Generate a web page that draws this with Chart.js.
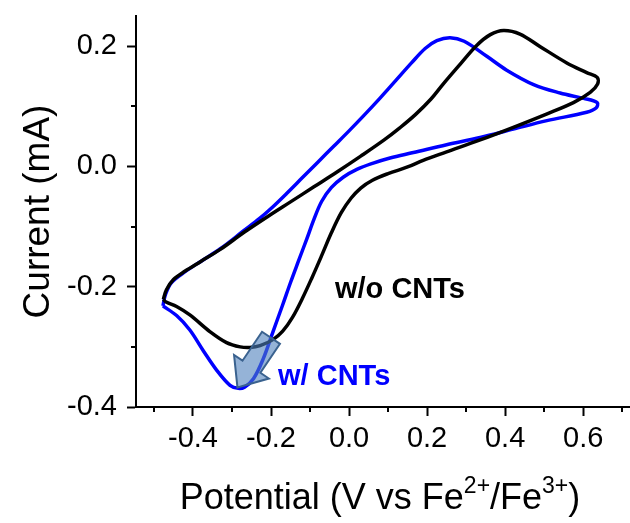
<!DOCTYPE html>
<html>
<head>
<meta charset="utf-8">
<script src="https://cdn.jsdelivr.net/npm/chart.js@4.4.1/dist/chart.umd.min.js"></script>
<style>
  body { margin: 0; background: #fff; }
  #wrap { width: 630px; height: 523px; }
</style>
</head>
<body>
<div id="wrap"><canvas id="cvChart" width="630" height="523"></canvas></div>
<script>
// one full CV cycle per electrode, potential in V, current in mA
const plainV = [-0.476, -0.468, -0.450, -0.420, -0.380, -0.330, -0.270, -0.210, -0.150, -0.090, -0.030, 0.030, 0.090, 0.130, 0.170, 0.210, 0.240, 0.285, 0.327, 0.362, 0.396, 0.438, 0.490, 0.558, 0.609, 0.636,
  0.637, 0.618, 0.575, 0.506, 0.421, 0.336, 0.250, 0.190, 0.150, 0.100, 0.060, 0.030, 0.005, -0.020, -0.045, -0.070, -0.095, -0.120, -0.145, -0.170, -0.195, -0.228, -0.254, -0.279, -0.314, -0.356, -0.408, -0.442, -0.470, -0.476];
const plainI = [-0.221, -0.205, -0.188, -0.174, -0.158, -0.138, -0.110, -0.084, -0.059, -0.034, -0.009, 0.017, 0.044, 0.064, 0.086, 0.112, 0.136, 0.170, 0.201, 0.219, 0.226, 0.220, 0.199, 0.172, 0.156, 0.148,
  0.137, 0.123, 0.106, 0.087, 0.065, 0.044, 0.024, 0.010, -0.001, -0.012, -0.023, -0.036, -0.053, -0.077, -0.110, -0.148, -0.185, -0.220, -0.251, -0.274, -0.288, -0.298, -0.301, -0.300, -0.293, -0.275, -0.247, -0.233, -0.225, -0.221];

const cntV = [-0.477, -0.470, -0.455, -0.420, -0.380, -0.330, -0.270, -0.230, -0.200, -0.160, -0.120, -0.080, -0.040, 0.000, 0.040, 0.080, 0.120, 0.160, 0.195, 0.225, 0.259, 0.295, 0.353, 0.404, 0.473, 0.541, 0.601, 0.636,
  0.633, 0.609, 0.507, 0.421, 0.336, 0.250, 0.165, 0.105, 0.060, 0.020, -0.015, -0.045, -0.070, -0.090, -0.108, -0.130, -0.150, -0.170, -0.195, -0.220, -0.245, -0.268, -0.284, -0.305, -0.339, -0.374, -0.408, -0.442, -0.477];
const cntI = [-0.232, -0.212, -0.193, -0.175, -0.158, -0.137, -0.107, -0.087, -0.070, -0.045, -0.019, 0.007, 0.033, 0.059, 0.086, 0.114, 0.143, 0.172, 0.196, 0.209, 0.214, 0.208, 0.183, 0.160, 0.136, 0.122, 0.113, 0.106,
  0.097, 0.090, 0.076, 0.062, 0.048, 0.036, 0.023, 0.014, 0.005, -0.005, -0.018, -0.035, -0.058, -0.088, -0.120, -0.158, -0.193, -0.230, -0.275, -0.320, -0.353, -0.367, -0.369, -0.364, -0.339, -0.306, -0.272, -0.248, -0.232];

const seriesNames = ['w/o CNTs', 'w/ CNTs'];

const xMajor = [-0.4, -0.2, 0.0, 0.2, 0.4, 0.6];
const xTickLabels = ['-0.4', '-0.2', '0.0', '0.2', '0.4', '0.6'];
const xMinor = [-0.5, -0.3, -0.1, 0.1, 0.3, 0.5, 0.7];
const yMajor = [-0.4, -0.2, 0.0, 0.2];
const yTickLabels = ['-0.4', '-0.2', '0.0', '0.2'];
const yMinor = [-0.3, -0.1, 0.1];

const toPoints = (vs, is) => vs.map((v, k) => ({ x: v, y: is[k] }));

const FONT = "'Liberation Sans', Arial, sans-serif";

// minor ticks, the arrow, the in-plot labels and the x title with superscripts
const extras = {
  id: 'extras',
  afterDatasetsDraw(chart) {
    const { ctx, scales: { x, y } } = chart;
    ctx.save();
    // block arrow pointing at the CNT reduction peak
    const tx = x.getPixelForValue(-0.200), ty = y.getPixelForValue(-0.285);
    const hx = x.getPixelForValue(-0.286), hy = y.getPixelForValue(-0.3675);
    const len = Math.hypot(hx - tx, hy - ty);
    const ux = (hx - tx) / len, uy = (hy - ty) / len;
    const nx = -uy, ny = ux;
    const shaft = 10.8, head = 21, headLen = 25;
    const bx = hx - ux * headLen, by = hy - uy * headLen;
    ctx.beginPath();
    ctx.moveTo(tx + nx * shaft, ty + ny * shaft);
    ctx.lineTo(bx + nx * shaft, by + ny * shaft);
    ctx.lineTo(bx + nx * head, by + ny * head);
    ctx.lineTo(hx, hy);
    ctx.lineTo(bx - nx * head, by - ny * head);
    ctx.lineTo(bx - nx * shaft, by - ny * shaft);
    ctx.lineTo(tx - nx * shaft, ty - ny * shaft);
    ctx.closePath();
    ctx.fillStyle = 'rgba(79,129,189,0.6)';
    ctx.fill();
    ctx.strokeStyle = '#3a628f';
    ctx.lineWidth = 2;
    ctx.stroke();

    ctx.font = 'bold 29px ' + FONT;
    ctx.textAlign = 'left';
    ctx.textBaseline = 'alphabetic';
    ctx.fillStyle = '#000';
    ctx.fillText(seriesNames[0], x.getPixelForValue(-0.036), y.getPixelForValue(-0.219));
    ctx.fillStyle = '#0000ff';
    ctx.fillText(seriesNames[1], x.getPixelForValue(-0.182), y.getPixelForValue(-0.364));
    ctx.restore();
  },
  afterDraw(chart) {
    const { ctx, scales: { x, y } } = chart;
    ctx.save();
    ctx.strokeStyle = '#000';
    ctx.lineWidth = 2;
    xMinor.forEach(v => {
      const px = Math.round(x.getPixelForValue(v));
      ctx.beginPath();
      ctx.moveTo(px, x.top);
      ctx.lineTo(px, x.top + 5);
      ctx.stroke();
    });
    yMinor.forEach(v => {
      const py = Math.round(y.getPixelForValue(v));
      ctx.beginPath();
      ctx.moveTo(y.right, py);
      ctx.lineTo(y.right - 5, py);
      ctx.stroke();
    });

    // x axis title: Potential (V vs Fe2+/Fe3+)
    const parts = [
      ['Potential (V vs Fe', false], ['2+', true], ['/Fe', false], ['3+', true], [')', false]
    ];
    const big = '36px ' + FONT, small = '23px ' + FONT;
    let total = 0;
    parts.forEach(p => { ctx.font = p[1] ? small : big; total += ctx.measureText(p[0]).width; });
    let cx = (chart.chartArea.left + chart.chartArea.right) / 2 - total / 2 - 3;
    const base = x.bottom - 14;
    ctx.fillStyle = '#000';
    ctx.textBaseline = 'alphabetic';
    ctx.textAlign = 'left';
    parts.forEach(p => {
      ctx.font = p[1] ? small : big;
      ctx.fillText(p[0], cx, p[1] ? base - 16 : base);
      cx += ctx.measureText(p[0]).width;
    });
    ctx.restore();
  }
};

new Chart(document.getElementById('cvChart'), {
  type: 'scatter',
  data: {
    datasets: [
      {
        label: seriesNames[0],
        data: toPoints(plainV, plainI),
        showLine: true,
        borderColor: '#000000',
        borderWidth: 3.5,
        pointRadius: 0,
        tension: 0.35,
        fill: false
      },
      {
        label: seriesNames[1],
        data: toPoints(cntV, cntI),
        showLine: true,
        borderColor: '#0000ff',
        borderWidth: 3.5,
        pointRadius: 0,
        tension: 0.35,
        fill: false
      }
    ]
  },
  options: {
    responsive: false,
    animation: false,
    layout: { padding: { top: 16, right: 0, left: 0, bottom: 0 } },
    plugins: { legend: { display: false }, tooltip: { enabled: false } },
    scales: {
      x: {
        type: 'linear',
        min: -0.546,
        max: 0.72,
        afterBuildTicks: scale => { scale.ticks = xMajor.map(v => ({ value: v })); },
        afterFit: scale => {
          scale.height = 116;
          scale.paddingLeft = 0;
          scale.paddingRight = 0;
        },
        border: { display: true, color: '#000', width: 2 },
        grid: { display: true, drawOnChartArea: false, drawTicks: true, tickLength: 9, tickColor: '#000', tickWidth: 2 },
        ticks: {
          autoSkip: false,
          maxRotation: 0,
          padding: 6,
          color: '#000',
          font: { family: FONT, size: 29 },
          callback: (val, idx) => xTickLabels[idx]
        },
        title: { display: false }
      },
      y: {
        type: 'linear',
        min: -0.4,
        max: 0.25,
        afterBuildTicks: scale => { scale.ticks = yMajor.map(v => ({ value: v })); },
        afterFit: scale => {
          scale.width = 136;
          scale.paddingTop = 0;
          scale.paddingBottom = 0;
        },
        border: { display: true, color: '#000', width: 2 },
        grid: { display: true, drawOnChartArea: false, drawTicks: true, tickLength: 9, tickColor: '#000', tickWidth: 2 },
        ticks: {
          autoSkip: false,
          padding: 10,
          color: '#000',
          font: { family: FONT, size: 29 },
          callback: (val, idx) => yTickLabels[idx]
        },
        title: {
          display: true,
          text: 'Current (mA)',
          color: '#000',
          font: { family: FONT, size: 37 },
          padding: { top: 17, bottom: 0 }
        }
      }
    }
  },
  plugins: [extras]
});
</script>
</body>
</html>
